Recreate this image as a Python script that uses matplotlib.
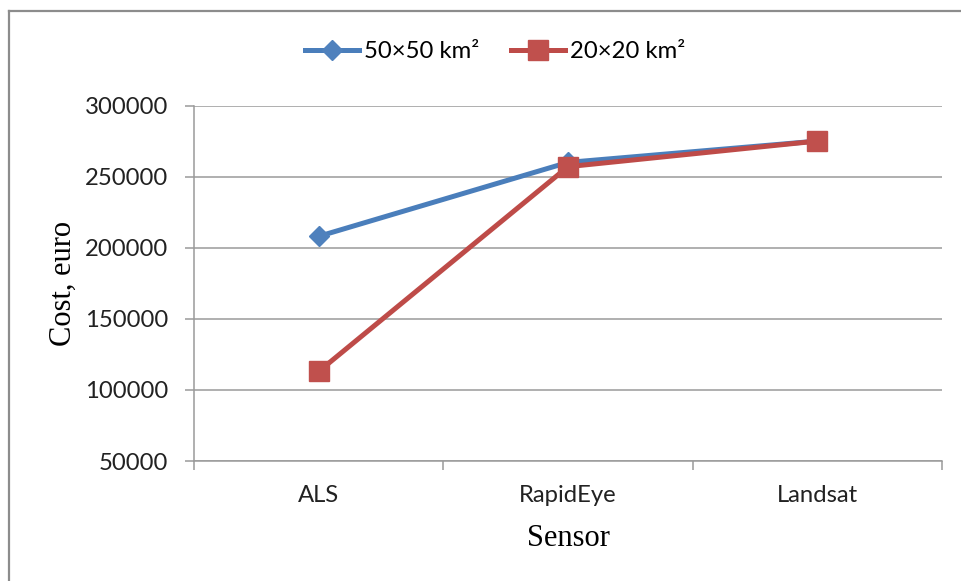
import matplotlib
matplotlib.use("Agg")
import matplotlib.pyplot as plt
from matplotlib.lines import Line2D

sensors = ["ALS", "RapidEye", "Landsat"]
cost_50 = [208000, 260000, 275000]
cost_20 = [113000, 257000, 275000]
series_names = ["50×50 km²", "20×20 km²"]
y_ticks = [50000, 100000, 150000, 200000, 250000, 300000]

tick_font = "Lato"
label_font = "Liberation Serif"
grey = "#9a9a9a"

fig = plt.figure(figsize=(9.61, 5.81), dpi=100)
ax = fig.add_axes([0.2019, 0.2065, 0.7783, 0.6119])

x = list(range(len(sensors)))
ax.plot(x, cost_50, color="#4A7EBB", lw=3.6, marker="D", ms=10.5,
        mfc="#4F81BD", mec="#4F81BD", label=series_names[0], zorder=3)
ax.plot(x, cost_20, color="#BE4B48", lw=3.6, marker="s", ms=15,
        mfc="#C0504D", mec="#C0504D", label=series_names[1], zorder=4)

ax.set_xlim(-0.5, len(sensors) - 0.5)
ax.set_ylim(50000, 300000)
ax.set_yticks(y_ticks)
ax.set_yticklabels([str(v) for v in y_ticks], fontfamily=tick_font, fontsize=17.2)
ax.yaxis.grid(True, color=grey, lw=1.1)
ax.set_axisbelow(True)

# category boundaries get the tick marks, names sit in between
ax.set_xticks([i - 0.5 for i in range(len(sensors) + 1)])
ax.set_xticklabels([])
ax.set_xticks(x, minor=True)
ax.set_xticklabels(sensors, minor=True, fontfamily=tick_font, fontsize=17.2)
ax.tick_params(axis="x", which="minor", length=0, pad=17, colors="#222222")
ax.tick_params(axis="x", which="major", length=6.5, width=1.1, color=grey)
ax.tick_params(axis="y", length=6.5, width=1.1, color=grey, pad=12,
               labelcolor="#222222")

for s in ["top", "right"]:
    ax.spines[s].set_visible(False)
for s in ["left", "bottom"]:
    ax.spines[s].set_color(grey)
    ax.spines[s].set_linewidth(1.1)

ax.set_xlabel("Sensor", fontfamily=label_font, fontsize=22)
ax.xaxis.set_label_coords(0.5, -0.177)
ax.set_ylabel("Cost, euro", fontfamily=label_font, fontsize=22)
ax.yaxis.set_label_coords(-0.155, 0.5)

fig.legend(loc="center", bbox_to_anchor=(495 / 961, 1 - 52 / 581), ncol=2,
           frameon=False, handlelength=2.3, handletextpad=0.2, columnspacing=1.3,
           prop={"family": tick_font, "size": 17.2})

# outer frame, only left and top show in the crop
fig.add_artist(Line2D([9 / 961, 9 / 961], [0, 1 - 11 / 581], color="#8c8c8c", lw=1.6))
fig.add_artist(Line2D([9 / 961, 1], [1 - 11 / 581, 1 - 11 / 581], color="#8c8c8c", lw=1.6))

fig.savefig("out.png", dpi=100)
